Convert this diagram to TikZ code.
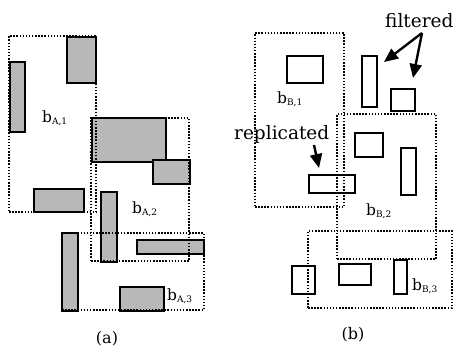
\documentclass[tikz,border=0pt]{standalone}
\usepackage{fontspec}
\setmainfont{DejaVu Serif}
\usetikzlibrary{fit,arrows.meta}
\tikzset{
  grect/.style={draw=black, line width=2.3pt, fill=black!28, inner sep=0pt},
  wrect/.style={draw=black, line width=2pt, fill=none, inner sep=0pt},
  dbox/.style={draw=black, line width=1.5pt, dash pattern=on 1.5pt off 1.6pt, fill=none, inner sep=0pt},
  lbl/.style={inner sep=0pt, anchor=base west, font=\fontsize{15.5}{18}\selectfont},
  word/.style={inner sep=0pt, anchor=base west, font=\fontsize{18.5}{22}\selectfont},
  captext/.style={inner sep=0pt, font=\fontsize{16}{19}\selectfont},
  bigarrow/.style={line width=2.4pt, -{Triangle[length=14pt,width=12pt]}}
}
\newcommand{\bsub}[1]{b\raisebox{-2pt}{\fontsize{9}{10}\selectfont #1}}
\begin{document}
\begin{tikzpicture}[x=1pt,y=-1pt]
\useasboundingbox (0,0) rectangle (456,349);
% ---------- (a) ----------
\node[grect, fit={(67,37) (96,83)}] (a1) {};
\node[grect, fit={(10,62) (25,132)}] (a2) {};
\node[grect, fit={(92,118) (166,162)}] (a3) {};
\node[grect, fit={(153,160) (190,184)}] (a4) {};
\node[grect, fit={(34,189) (84,212)}] (a5) {};
\node[grect, fit={(101,192) (117,262)}] (a6) {};
\node[grect, fit={(62,233) (78,311)}] (a7) {};
\node[grect, fit={(137,240) (204,254)}] (a8) {};
\node[grect, fit={(120,287) (164,311)}] (a9) {};
\node[dbox, fit={(9,36) (96,212)}] (A1) {};
\node[dbox, fit={(91,118) (189,261)}] (A2) {};
\node[dbox, fit={(62,233) (204,310)}] (A3) {};
\node[lbl] (lA1) at (42,122) {\bsub{A,1}};
\node[lbl] (lA2) at (132,213) {\bsub{A,2}};
\node[lbl] (lA3) at (167,300) {\bsub{A,3}};
\node[captext] (capa) at (107,339) {(a)};
% ---------- (b) ----------
\node[wrect, fit={(287,56) (323,83)}] (b1) {};
\node[wrect, fit={(362,56) (377,107)}] (b2) {};
\node[wrect, fit={(391,89) (415,111)}] (b3) {};
\node[wrect, fit={(355,133) (383,157)}] (b4) {};
\node[wrect, fit={(401,148) (416,195)}] (b5) {};
\node[wrect, fit={(309,175) (355,193)}] (b6) {};
\node[wrect, fit={(292,266) (315,294)}] (b7) {};
\node[wrect, fit={(339,264) (371,285)}] (b8) {};
\node[wrect, fit={(394,260) (407,294)}] (b9) {};
\node[dbox, fit={(255,33) (344,207)}] (B1) {};
\node[dbox, fit={(337,114) (436,259)}] (B2) {};
\node[dbox, fit={(308,231) (452,308)}] (B3) {};
\node[lbl] (lB1) at (277,103) {\bsub{B,1}};
\node[lbl] (lB2) at (366,215) {\bsub{B,2}};
\node[lbl] (lB3) at (412,290) {\bsub{B,3}};
\node[word] (filt) at (385,27) {filtered};
\node[word] (repl) at (234,139) {replicated};
\coordinate (f0) at (422,33);
\coordinate (f1) at (384,62);
\coordinate (f2) at (413,78);
\coordinate (r0) at (314,145);
\coordinate (r1) at (319,168);
\draw[bigarrow] (f0) -- (f1);
\draw[bigarrow] (f0) -- (f2);
\draw[bigarrow] (r0) -- (r1);
\node[captext] (capb) at (353,335) {(b)};
\end{tikzpicture}
\end{document}
